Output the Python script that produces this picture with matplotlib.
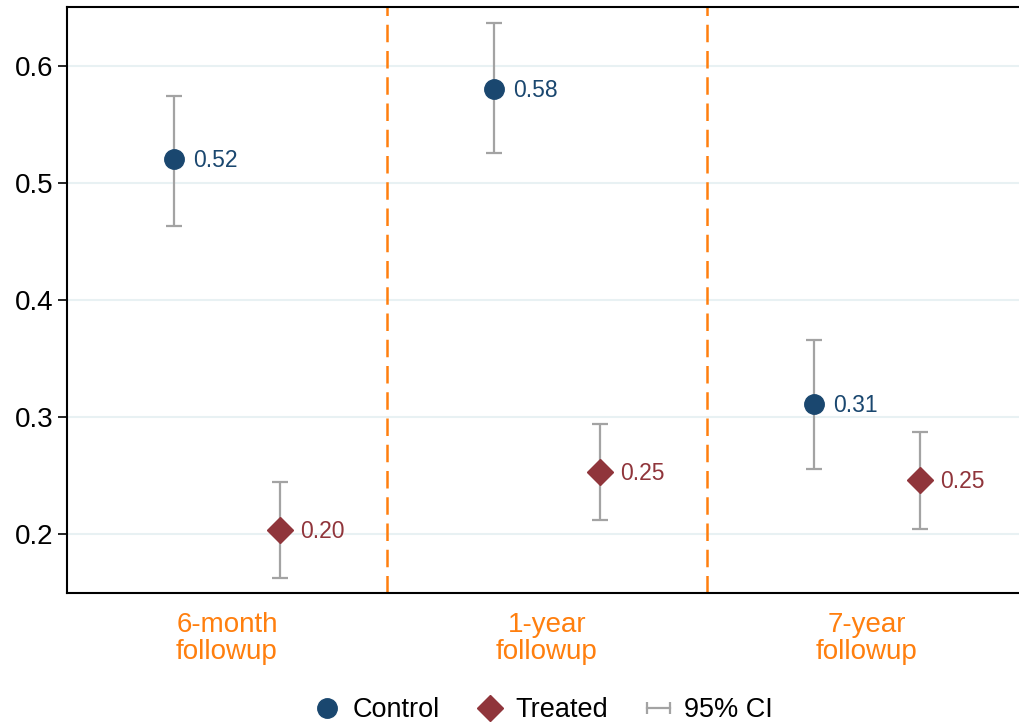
import matplotlib
matplotlib.use("Agg")
import matplotlib.pyplot as plt
from matplotlib.lines import Line2D
from matplotlib.legend_handler import HandlerLine2D

plt.rcParams['font.family'] = ['Liberation Sans', 'DejaVu Sans']

# Follow-up waves and estimated means with 95% confidence bounds
waves = ["6-month\nfollowup", "1-year\nfollowup", "7-year\nfollowup"]
control_mean = [0.52, 0.58, 0.311]
control_lo = [0.463, 0.525, 0.256]
control_hi = [0.574, 0.636, 0.366]
treated_mean = [0.204, 0.253, 0.246]
treated_lo = [0.163, 0.212, 0.205]
treated_hi = [0.245, 0.294, 0.287]
control_labels = ["0.52", "0.58", "0.31"]
treated_labels = ["0.20", "0.25", "0.25"]
yticks = [0.2, 0.3, 0.4, 0.5, 0.6]

NAVY = "#1A476F"
MAROON = "#90353B"
ORANGE = "#FF7F0E"
GRAY = "#A3A3A3"
GRID = "#E8F1F3"

fig = plt.figure(figsize=(10.19, 7.26), dpi=100)
ax = fig.add_axes([67 / 1019, (726 - 593) / 726, 960 / 1019, 586 / 726])

n = len(waves)
xc = [i + 1 / 3 for i in range(n)]
xt = [i + 2 / 3 for i in range(n)]

for y in yticks:
    ax.axhline(y, color=GRID, lw=1.5, zorder=0)
for i in range(1, n):
    ax.axvline(i, color=ORANGE, lw=1.8, dashes=(7, 3.5), zorder=1)

def draw_series(xs, mean, lo, hi, labels, color, marker, ms):
    err = [[m - l for m, l in zip(mean, lo)], [h - m for m, h in zip(mean, hi)]]
    ax.errorbar(xs, mean, yerr=err, fmt="none", ecolor=GRAY, elinewidth=1.6,
                capsize=5.5, capthick=1.6, zorder=2)
    ax.plot(xs, mean, linestyle="none", marker=marker, ms=ms, color=color,
            markeredgecolor=color, zorder=3)
    for x, m, t in zip(xs, mean, labels):
        ax.annotate(t, (x, m), xytext=(14, -1), textcoords="offset points",
                    va="center", ha="left", fontsize=16.5, color=color)

draw_series(xc, control_mean, control_lo, control_hi, control_labels, NAVY, "o", 14)
draw_series(xt, treated_mean, treated_lo, treated_hi, treated_labels, MAROON, "D", 13)

ax.set_xlim(0, n)
ax.set_ylim(0.15, 0.65)
ax.set_yticks(yticks)
ax.set_yticklabels([f"{v:.1f}" for v in yticks])
ax.set_xticks([i + 0.5 for i in range(n)])
ax.set_xticklabels(waves, color=ORANGE, fontsize=20, linespacing=1.05)
ax.tick_params(axis="x", length=0, pad=13.5)
ax.tick_params(axis="y", length=6.5, width=1.2, pad=3, labelsize=20)

for side in ("left", "bottom", "top"):
    ax.spines[side].set_linewidth(1.5)
    ax.spines[side].set_color("black")
ax.spines["right"].set_visible(False)

h_control = Line2D([], [], linestyle="none", marker="o", ms=14, color=NAVY)
h_treated = Line2D([], [], linestyle="none", marker="D", ms=13, color=MAROON)
h_ci = Line2D([], [], color=GRAY, lw=1.6, marker="|", ms=8, mew=1.6)
ax.legend([h_control, h_treated, h_ci], ["Control", "Treated", "95% CI"],
          handler_map={h_ci: HandlerLine2D(numpoints=2, marker_pad=0)},
          loc="center", bbox_to_anchor=(0.497, -0.2), ncol=3, frameon=False,
          fontsize=19.5, handlelength=0.85, handletextpad=0.5, columnspacing=1.45,
          borderaxespad=0)

fig.savefig("out.png", dpi=100)
